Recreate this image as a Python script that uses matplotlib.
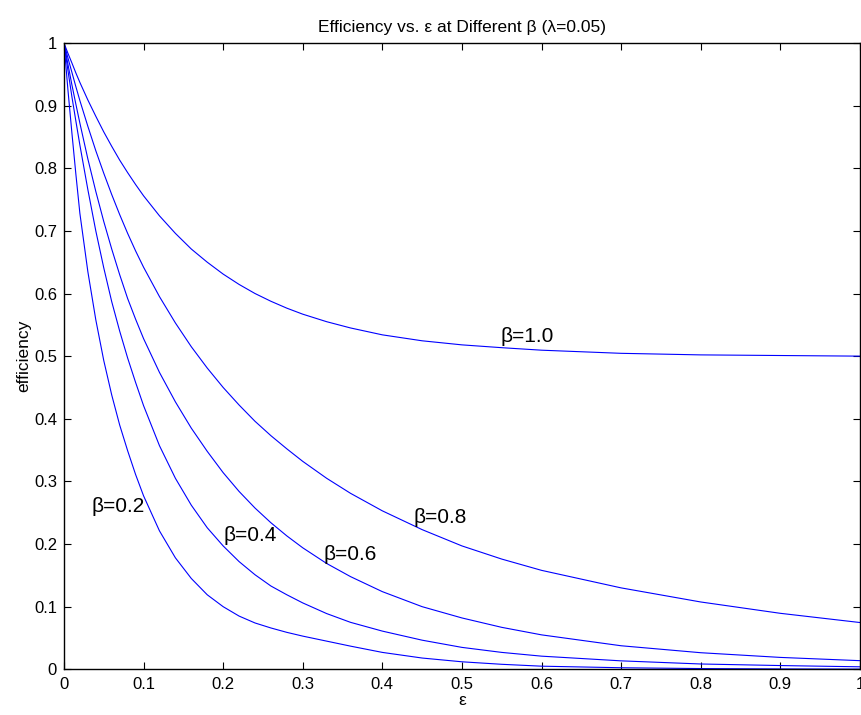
import matplotlib
matplotlib.use("Agg")
import matplotlib.pyplot as plt

plt.rcParams['font.family'] = ['Liberation Sans', 'DejaVu Sans']

eps = [0, 0.005, 0.01, 0.015, 0.02, 0.03, 0.04, 0.05, 0.06, 0.07, 0.08, 0.09, 0.10,
       0.12, 0.14, 0.16, 0.18, 0.20, 0.22, 0.24, 0.26, 0.28, 0.30, 0.33, 0.36,
       0.40, 0.45, 0.50, 0.55, 0.60, 0.70, 0.80, 0.90, 1.00]

# efficiency for each beta
eff_b02 = [1.0, 0.925, 0.856, 0.790, 0.728, 0.635, 0.558, 0.493, 0.438, 0.390, 0.349,
           0.311, 0.277, 0.221, 0.178, 0.145, 0.119, 0.100, 0.085, 0.074, 0.066,
           0.059, 0.053, 0.045, 0.037, 0.027, 0.018, 0.012, 0.008, 0.005, 0.0025,
           0.0012, 0.0006, 0.0003]
eff_b04 = [1.0, 0.956, 0.914, 0.875, 0.837, 0.766, 0.700, 0.641, 0.587, 0.540, 0.497,
           0.458, 0.421, 0.357, 0.305, 0.262, 0.226, 0.197, 0.172, 0.151, 0.133,
           0.119, 0.106, 0.089, 0.075, 0.061, 0.0465, 0.035, 0.027, 0.021, 0.0135,
           0.0085, 0.006, 0.004]
eff_b06 = [1.0, 0.966, 0.933, 0.902, 0.872, 0.815, 0.763, 0.715, 0.671, 0.630, 0.592,
           0.559, 0.528, 0.474, 0.427, 0.385, 0.348, 0.314, 0.284, 0.2575, 0.234,
           0.213, 0.194, 0.169, 0.148, 0.124, 0.100, 0.082, 0.067, 0.055, 0.0376,
           0.0265, 0.019, 0.0138]
eff_b08 = [1.0, 0.976, 0.953, 0.930, 0.908, 0.867, 0.828, 0.792, 0.758, 0.726, 0.696,
           0.668, 0.642, 0.595, 0.553, 0.515, 0.481, 0.450, 0.422, 0.396, 0.373,
           0.352, 0.332, 0.305, 0.281, 0.253, 0.223, 0.197, 0.176, 0.158, 0.130,
           0.1075, 0.0894, 0.0747]
eff_b10 = [1.0, 0.9835, 0.968, 0.952, 0.937, 0.909, 0.883, 0.858, 0.835, 0.813, 0.793,
           0.774, 0.756, 0.724, 0.696, 0.671, 0.650, 0.631, 0.6145, 0.600, 0.5876,
           0.5766, 0.567, 0.555, 0.545, 0.534, 0.5245, 0.518, 0.5135, 0.5095, 0.5045,
           0.502, 0.501, 0.500]

curve_labels = ['β=0.2', 'β=0.4', 'β=0.6', 'β=0.8', 'β=1.0']
label_x = [0.035, 0.201, 0.326, 0.439, 0.548]
label_y = [0.26, 0.214, 0.183, 0.243, 0.531]

ticks = [0, 0.1, 0.2, 0.3, 0.4, 0.5, 0.6, 0.7, 0.8, 0.9, 1]
tick_labels = ['0', '0.1', '0.2', '0.3', '0.4', '0.5', '0.6', '0.7', '0.8', '0.9', '1']

fig = plt.figure(figsize=(8.62, 7.15), dpi=100)
ax = fig.add_axes([0.0742, 0.0639, 0.9234, 0.876])

for ys in [eff_b02, eff_b04, eff_b06, eff_b08, eff_b10]:
    ax.plot(eps, ys, color='#0000ff', linewidth=0.8)

for txt, x, y in zip(curve_labels, label_x, label_y):
    ax.text(x, y, txt, fontsize=15, ha='left', va='center')

ax.set_xlim(0, 1)
ax.set_ylim(0, 1)
ax.set_xticks(ticks)
ax.set_xticklabels(tick_labels)
ax.set_yticks(ticks)
ax.set_yticklabels(tick_labels)
ax.tick_params(direction='in', top=True, right=True, length=5, width=0.8,
               labelsize=12)
ax.tick_params(axis='x', pad=5.5)
ax.tick_params(axis='y', pad=5)
for sp in ax.spines.values():
    sp.set_linewidth(1.0)

ax.set_title('Efficiency vs. ε at Different β (λ=0.05)', fontsize=12.5, pad=8)
ax.set_xlabel('ε', fontsize=12.5, labelpad=1)
ax.set_ylabel('efficiency', fontsize=12.5, labelpad=2)

fig.savefig('out.png', dpi=100)
